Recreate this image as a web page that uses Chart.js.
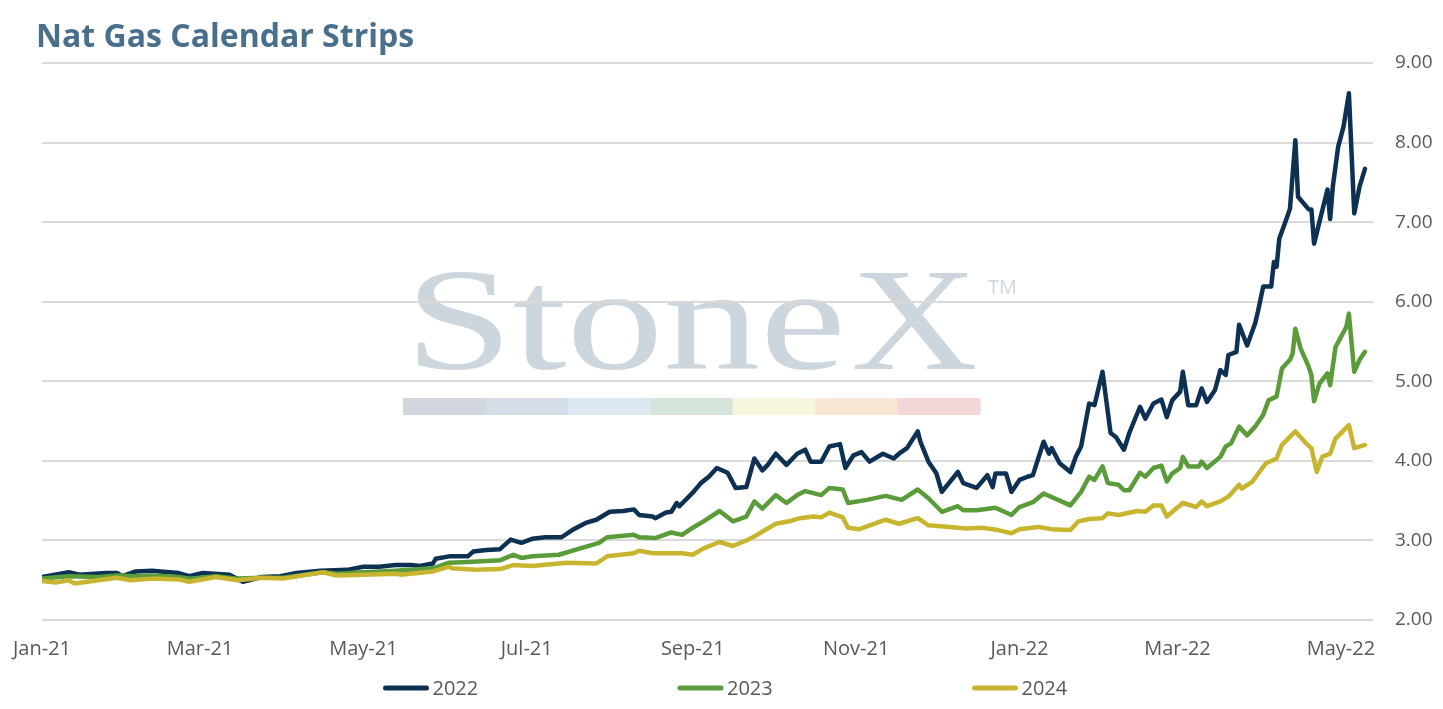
<!DOCTYPE html>
<html>
<head>
<meta charset="utf-8">
<title>Nat Gas Calendar Strips</title>
<script src="https://cdn.jsdelivr.net/npm/chart.js@4.4.1/dist/chart.umd.min.js"></script>
<style>
  html, body { margin:0; padding:0; background:#fff; }
  #wrap { width:1443px; height:709px; position:relative; }
</style>
</head>
<body>
<div id="wrap"><canvas id="myChart"></canvas></div>
<script>
// x = days since 1 Jan 2021, y = strip price ($/MMBtu)
var days22 = [0,10,14,24,28,30,35,41,51,55,60,70,75,82,89,95,104,114,120,126,132,138,141,146,147,152,159,161,166,171,175,179,183,188,194,198,203,207,212,217,221,223,228,229,233,235,237,238,243,246,249,252,256,259,263,266,269,271,274,278,282,285,287,291,294,298,300,303,306,309,314,318,320,323,327,328,331,334,336,342,344,349,353,355,356,360,362,365,368,370,374,376,377,380,384,386,388,391,393,396,399,401,404,406,410,412,415,418,420,422,425,426,428,431,433,435,438,440,442,443,446,447,450,453,454,456,459,460,461,462,465,466,468,469,473,474,475,480,481,482,484,486,488,490,492,494];
var strip22 = [2.54,2.60,2.57,2.59,2.59,2.55,2.61,2.62,2.59,2.55,2.59,2.57,2.48,2.54,2.55,2.59,2.62,2.63,2.67,2.67,2.69,2.69,2.68,2.71,2.77,2.80,2.80,2.86,2.88,2.89,3.01,2.97,3.02,3.04,3.04,3.13,3.22,3.26,3.36,3.37,3.39,3.32,3.30,3.28,3.35,3.36,3.47,3.43,3.60,3.72,3.80,3.91,3.85,3.66,3.67,4.03,3.88,3.95,4.09,3.95,4.09,4.14,3.99,3.99,4.18,4.21,3.91,4.07,4.11,3.99,4.09,4.03,4.09,4.16,4.37,4.24,3.99,3.84,3.61,3.86,3.72,3.66,3.82,3.67,3.84,3.84,3.61,3.76,3.80,3.82,4.24,4.09,4.16,3.97,3.86,4.05,4.18,4.72,4.70,5.12,4.35,4.30,4.14,4.35,4.68,4.53,4.72,4.77,4.55,4.76,4.87,5.12,4.70,4.70,4.91,4.74,4.89,5.14,5.08,5.33,5.37,5.71,5.45,5.73,5.87,6.19,6.19,6.50,6.44,6.79,7.07,7.17,8.03,7.32,7.16,7.16,6.73,7.41,7.04,7.45,7.95,8.20,8.62,7.11,7.45,7.67];

var days23 = [0,10,21,28,35,41,51,55,65,73,82,90,101,105,110,120,132,146,152,159,171,176,179,183,193,201,208,211,221,223,229,235,239,243,247,253,258,263,266,269,274,278,282,285,291,294,299,301,308,315,321,327,331,336,342,344,349,356,362,365,370,374,384,388,391,393,396,398,402,404,406,410,412,415,418,420,422,425,426,428,432,433,435,440,442,444,447,450,453,456,458,461,463,466,467,468,470,473,474,475,477,480,481,483,487,488,490,492,494];
var strip23 = [2.52,2.55,2.54,2.56,2.55,2.56,2.54,2.52,2.55,2.52,2.53,2.53,2.58,2.60,2.58,2.60,2.62,2.65,2.72,2.73,2.75,2.82,2.78,2.80,2.82,2.90,2.97,3.04,3.07,3.04,3.03,3.10,3.07,3.16,3.24,3.37,3.24,3.30,3.49,3.40,3.57,3.47,3.57,3.62,3.57,3.66,3.64,3.47,3.51,3.56,3.51,3.64,3.53,3.36,3.43,3.38,3.38,3.41,3.32,3.42,3.48,3.59,3.44,3.61,3.80,3.76,3.93,3.72,3.70,3.63,3.63,3.85,3.80,3.91,3.94,3.74,3.84,3.91,4.05,3.93,3.93,3.99,3.91,4.05,4.18,4.22,4.43,4.32,4.43,4.58,4.76,4.81,5.16,5.27,5.35,5.66,5.41,5.18,5.08,4.75,4.97,5.10,4.95,5.43,5.68,5.85,5.12,5.27,5.37];

var days24 = [0,5,10,12,21,28,33,41,51,55,65,73,82,90,101,105,110,120,132,134,146,152,153,162,171,176,183,196,207,211,221,223,228,239,243,247,253,258,263,266,269,274,279,283,288,291,294,299,301,305,315,320,327,331,339,345,351,357,362,365,372,377,384,387,391,396,398,402,409,412,415,418,420,426,431,433,435,440,443,447,448,452,457,461,463,468,472,474,476,478,481,483,488,490,494];
var strip24 = [2.49,2.47,2.50,2.46,2.50,2.53,2.50,2.52,2.51,2.48,2.54,2.50,2.53,2.52,2.58,2.60,2.56,2.57,2.58,2.57,2.61,2.67,2.65,2.63,2.64,2.69,2.68,2.72,2.71,2.80,2.84,2.87,2.84,2.84,2.82,2.90,2.98,2.93,3.00,3.05,3.11,3.21,3.24,3.28,3.30,3.29,3.35,3.29,3.16,3.14,3.26,3.21,3.28,3.19,3.17,3.15,3.16,3.13,3.09,3.14,3.17,3.14,3.13,3.24,3.27,3.28,3.34,3.32,3.37,3.36,3.44,3.44,3.30,3.47,3.42,3.49,3.43,3.49,3.55,3.70,3.65,3.74,3.97,4.03,4.20,4.37,4.22,4.16,3.86,4.05,4.09,4.28,4.45,4.16,4.20];

var seriesNames = ['2022', '2023', '2024'];
var tickDays = [0, 59, 120, 181, 243, 304, 365, 424, 485];
var tickLabels = ['Jan-21', 'Mar-21', 'May-21', 'Jul-21', 'Sep-21', 'Nov-21', 'Jan-22', 'Mar-22', 'May-22'];

function toPoints(xs, ys) {
  var out = [];
  for (var i = 0; i < xs.length; i++) out.push({ x: xs[i], y: ys[i] });
  return out;
}

var fontFam = '"Open Sans", "Lato", sans-serif';

// draws a word squeezed/stretched to a given width
function stretchText(ctx, txt, x, y, width) {
  var w = ctx.measureText(txt).width;
  ctx.save();
  ctx.translate(x, y);
  ctx.scale(width / w, 1);
  ctx.fillText(txt, 0, 0);
  ctx.restore();
}

// StoneX logo behind the grid, title + legend on top
var decor = {
  id: 'decor',
  beforeDraw: function(chart) {
    var ctx = chart.ctx;
    ctx.save();
    ctx.fillStyle = '#cdd5dd';
    ctx.textBaseline = 'alphabetic';
    ctx.font = '146px "Liberation Serif", "DejaVu Serif", serif';
    stretchText(ctx, 'Stone', 405, 369, 441);
    stretchText(ctx, 'X', 851, 369, 127);

    ctx.font = '20px ' + fontFam;
    ctx.fillText('TM', 988, 294);
    var bar = ['#d2d7de', '#d4dce6', '#dde9f2', '#d6e4da', '#f7f5dd', '#f8e7d4', '#f2d6d8'];
    var segW = 577 / bar.length;
    for (var i = 0; i < bar.length; i++) {
      ctx.fillStyle = bar[i];
      ctx.fillRect(403 + i * segW, 398, segW + 0.5, 17);
    }
    ctx.restore();
  },
  afterDraw: function(chart) {
    var ctx = chart.ctx;
    ctx.save();
    ctx.fillStyle = '#4a6f8b';
    ctx.font = '700 32px ' + fontFam;
    ctx.textBaseline = 'alphabetic';
    ctx.fillText('Nat Gas Calendar Strips', 36, 47);

    // legend
    ctx.font = '20px ' + fontFam;
    ctx.textBaseline = 'middle';
    var mid = chart.width / 2 + 5;
    chart.data.datasets.forEach(function(ds, i) {
      var x0 = mid + (i - 1) * 294.5 - 48.5;
      ctx.strokeStyle = ds.borderColor;
      ctx.lineWidth = 5;
      ctx.lineCap = 'round';
      ctx.beginPath();
      ctx.moveTo(x0 + 2, 688);
      ctx.lineTo(x0 + 43, 688);
      ctx.stroke();
      ctx.fillStyle = '#595959';
      ctx.fillText(ds.label, x0 + 49, 689);
    });
    ctx.restore();
  }
};

var chartConfig = {
  type: 'line',
  data: {
    datasets: [
      { label: seriesNames[0], data: toPoints(days22, strip22), borderColor: '#0d3153', order: 2 },
      { label: seriesNames[1], data: toPoints(days23, strip23), borderColor: '#5b9c3a', order: 1 },
      { label: seriesNames[2], data: toPoints(days24, strip24), borderColor: '#c8b52f', order: 0 }
    ]
  },
  options: {
    responsive: true,
    maintainAspectRatio: false,
    animation: false,
    elements: {
      line: { borderWidth: 4.5, tension: 0, borderJoinStyle: 'round', borderCapStyle: 'round' },
      point: { radius: 0, hoverRadius: 0 }
    },
    layout: { padding: { top: 63, left: 0, right: 0, bottom: 49 } },
    plugins: {
      legend: { display: false },
      tooltip: { enabled: false },
      title: { display: false }
    },
    scales: {
      x: {
        type: 'linear',
        min: 0,
        max: 497,
        grid: { display: false, drawTicks: false },
        border: { display: false },
        afterBuildTicks: function(axis) {
          axis.ticks = tickDays.map(function(d) { return { value: d }; });
        },
        afterFit: function(axis) {
          axis.height = 40;
          axis.paddingLeft = 42;
        },
        ticks: {
          autoSkip: false,
          maxRotation: 0,
          padding: 17,
          color: '#595959',
          font: { family: fontFam, size: 20 },
          callback: function(v) {
            var i = tickDays.indexOf(v);
            return i >= 0 ? tickLabels[i] : '';
          }
        }
      },
      y: {
        position: 'right',
        min: 2,
        max: 9,
        grid: { color: '#d9d9d9', lineWidth: 2, drawTicks: false },
        border: { display: false },
        afterFit: function(axis) { axis.width = 70; },
        ticks: {
          stepSize: 1,
          padding: 22,
          color: '#595959',
          font: { family: fontFam, size: 19 },
          callback: function(v) { return v.toFixed(2); }
        }
      }
    }
  },
  plugins: [decor]
};

var myChart = new Chart(document.getElementById('myChart'), chartConfig);
</script>
</body>
</html>
